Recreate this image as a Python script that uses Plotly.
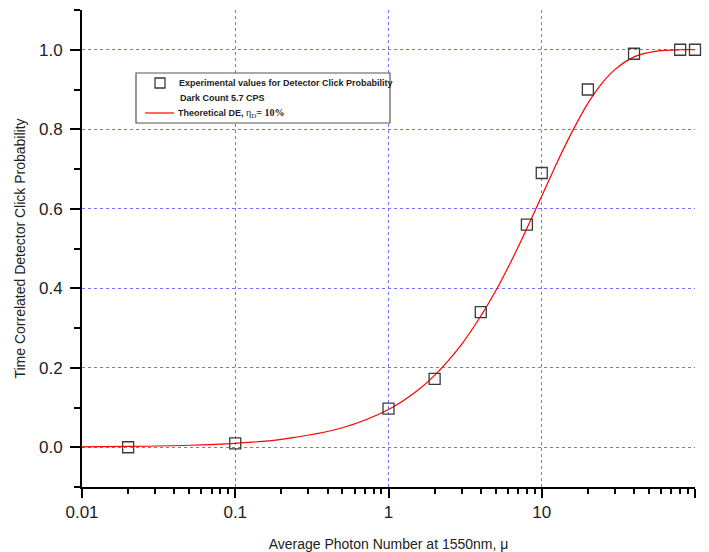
import plotly.graph_objects as go

# Measured detector click probability vs. mean photon number
mu_exp = [0.02, 0.1, 1, 2, 4, 8, 10, 20, 40, 80, 100]
p_exp = [0.0, 0.01, 0.097, 0.172, 0.34, 0.56, 0.69, 0.90, 0.99, 1.0, 1.0]

# Theoretical detection-efficiency curve (eta_D = 10%), sampled values
mu_theory = [0.01, 0.02, 0.05, 0.1, 0.2, 0.5, 1, 1.5, 2, 3, 4, 5, 6, 7, 8, 10,
             12, 15, 20, 25, 30, 40, 50, 60, 80, 100]
p_theory = [0.001, 0.002, 0.005, 0.010, 0.020, 0.049, 0.095, 0.139, 0.181,
            0.259, 0.330, 0.393, 0.451, 0.503, 0.551, 0.632, 0.699, 0.777,
            0.865, 0.918, 0.950, 0.982, 0.993, 0.998, 1.000, 1.000]

x_ticks = [0.01, 0.1, 1, 10, 100]
x_tick_labels = ["0.01", "0.1", "1", "10", "100"]

FONT = "Arial, 'Liberation Sans', sans-serif"
SERIF = "'Liberation Serif', 'DejaVu Serif', serif"
GRID = "#7272ff"

W, H = 709, 552
L, R, T, B = 82, 14, 10, 65
PW, PH = W - L - R, H - T - B


def px(x):
    return (x - L) / PW


def py(y):
    return (H - B - y) / PH


fig = go.Figure()

fig.add_trace(go.Scatter(
    x=mu_theory, y=p_theory, mode="lines", line_shape="spline",
    line=dict(color="red", width=1.2), showlegend=False,
))
fig.add_trace(go.Scatter(
    x=mu_exp, y=p_exp, mode="markers", showlegend=False, cliponaxis=False,
    marker=dict(symbol="square-open", size=11, color="#3a3a3a",
                line=dict(width=1.3, color="#3a3a3a")),
))

# Legend box drawn by hand
shapes = [
    dict(type="rect", xref="paper", yref="paper",
         x0=px(136), x1=px(390), y0=py(123), y1=py(73),
         line=dict(color="#555555", width=1.2), fillcolor="white"),
    dict(type="rect", xref="paper", yref="paper",
         x0=px(155), x1=px(165), y0=py(88), y1=py(78),
         line=dict(color="#3a3a3a", width=1.3)),
    dict(type="line", xref="paper", yref="paper",
         x0=px(145), x1=px(174), y0=py(113), y1=py(113),
         line=dict(color="red", width=1.2)),
]

annotations = [
    dict(text="<b>Experimental values for Detector Click Probability</b>",
         x=px(177), y=py(83)),
    dict(text="<b>Dark Count 5.7 CPS</b>", x=px(178), y=py(98)),
    dict(text="<b>Theoretical DE, </b><span style=\"font-family:" + SERIF
              + ";font-size:10px\">η<sub>D</sub><b>= 10%</b></span>",
         x=px(176), y=py(113)),
]
for a in annotations:
    a.update(xref="paper", yref="paper", xanchor="left", yanchor="middle",
             showarrow=False, font=dict(family=FONT, size=9, color="#222"))

fig.update_layout(
    width=W, height=H,
    margin=dict(l=L, r=R, t=T, b=B),
    paper_bgcolor="white", plot_bgcolor="white",
    font=dict(family=FONT, color="#222"),
    shapes=shapes, annotations=annotations,
    showlegend=False,
)

fig.update_xaxes(
    type="log", range=[-2, 2], automargin=False,
    tickvals=x_ticks, ticktext=x_tick_labels,
    tickfont=dict(size=17, family=FONT, color="#222"),
    ticks="outside", ticklen=9, tickwidth=2, tickcolor="black",
    minor=dict(ticks="outside", ticklen=5, tickwidth=2, tickcolor="black",
               dtick="D1", showgrid=False),
    showline=True, linecolor="black", linewidth=2,
    showgrid=True, gridcolor=GRID, griddash="dot", gridwidth=1,
    zeroline=False,
    title=dict(text="Average Photon Number at 1550nm, μ",
               font=dict(size=14, family=FONT, color="#222"), standoff=25),
)
fig.update_yaxes(
    range=[-0.1, 1.1], tick0=0, dtick=0.2, tickformat=".1f", automargin=False,
    tickfont=dict(size=17, family=FONT, color="#222"), ticklabelstandoff=4,
    ticks="outside", ticklen=10, tickwidth=2, tickcolor="black",
    minor=dict(ticks="outside", ticklen=6, tickwidth=2, tickcolor="black",
               dtick=0.1, showgrid=False),
    showline=True, linecolor="black", linewidth=2,
    showgrid=True, gridcolor=GRID, griddash="dot", gridwidth=1,
    zeroline=False,
    title=dict(text="Time Correlated Detector Click Probability",
               font=dict(size=14, family=FONT, color="#222"), standoff=10),
)

fig.write_html("out.html")
